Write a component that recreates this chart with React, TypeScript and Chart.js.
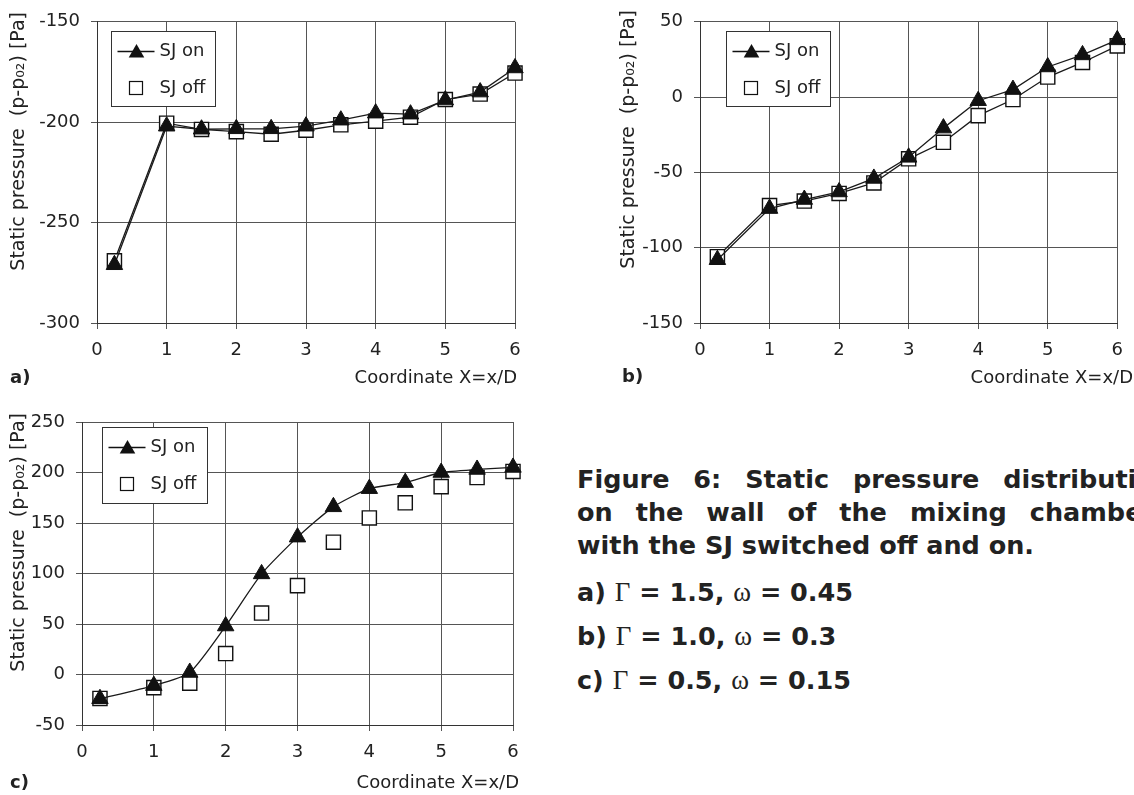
import React, { useEffect, useRef } from 'react';
import { Chart, registerables } from 'chart.js';

Chart.register(...registerables);

// ---------- data ----------
const seriesLabels = ['SJ on', 'SJ off'];
const xPositions = [0.25, 1, 1.5, 2, 2.5, 3, 3.5, 4, 4.5, 5, 5.5, 6];

const aOn = [-271, -202, -203.5, -203.3, -203.3, -202, -199, -195.5, -196, -189, -185, -173];
const aOff = [-269, -200.5, -203.6, -204.7, -206, -204, -201.3, -199.5, -197.5, -188.7, -186, -175.5];

const bOn = [-108, -74, -68, -63, -54, -40, -20.6, -2.4, 5, 20, 28, 38];
const bOff = [-106, -72, -69, -64, -57, -41, -30, -12.3, -1.6, 13.3, 23, 34];

const cOn = [-24, -11, 2, 48, 99.6, 136, 166, 184, 190, 200, 203, 205];
const cOff = [-23.7, -13, -8.6, 20.7, 60.8, 88, 131, 155, 170, 186, 195, 201];

const xTicks = [0, 1, 2, 3, 4, 5, 6];
const aYTicks = [-300, -250, -200, -150];
const bYTicks = [-150, -100, -50, 0, 50];
const cYTicks = [-50, 0, 50, 100, 150, 200, 250];

const yTitleText = 'Static pressure  (p-p\u2080\u2082) [Pa]';
const xTitleText = 'Coordinate X=x/D';

// ---------- plugins ----------
const legendPlugin = {
  id: 'insideLegend',
  afterDraw(chart: any, _args: any, opts: any) {
    if (!opts || opts.dx === undefined) return;
    const { ctx, chartArea } = chart;
    const bx = Math.round(chartArea.left + opts.dx) + 0.5;
    const by = Math.round(chartArea.top + opts.dy) + 0.5;
    const w = opts.w;
    const h = opts.h;
    ctx.save();
    ctx.fillStyle = '#ffffff';
    ctx.fillRect(bx, by, w, h);
    ctx.strokeStyle = '#333333';
    ctx.lineWidth = 1;
    ctx.strokeRect(bx, by, w, h);
    ctx.strokeStyle = '#111111';
    ctx.lineWidth = 1.3;
    ctx.beginPath();
    ctx.moveTo(bx + 6, by + 20);
    ctx.lineTo(bx + 43, by + 20);
    ctx.stroke();
    const tx = bx + 25;
    const ty = by + 21.5;
    const r = 9;
    ctx.fillStyle = '#111111';
    ctx.beginPath();
    ctx.moveTo(tx, ty - r);
    ctx.lineTo(tx + r * 0.866, ty + r / 2);
    ctx.lineTo(tx - r * 0.866, ty + r / 2);
    ctx.closePath();
    ctx.fill();
    ctx.fillStyle = '#ffffff';
    ctx.strokeStyle = '#111111';
    ctx.lineWidth = 1.2;
    ctx.fillRect(bx + 18, by + 50, 13, 13);
    ctx.strokeRect(bx + 18, by + 50, 13, 13);
    ctx.fillStyle = '#222222';
    ctx.font = '18px "DejaVu Sans"';
    ctx.textBaseline = 'middle';
    ctx.textAlign = 'left';
    ctx.fillText(chart.data.datasets[0].label, bx + 48, by + 20);
    ctx.fillText(chart.data.datasets[1].label, bx + 48, by + 57);
    ctx.restore();
  },
};

const titlePlugin = {
  id: 'axisTitles',
  afterDraw(chart: any, _args: any, opts: any) {
    if (!opts || opts.yx === undefined) return;
    const ctx = chart.ctx;
    ctx.save();
    ctx.fillStyle = '#222222';
    ctx.font = '19px "DejaVu Sans"';
    ctx.textBaseline = 'middle';
    ctx.translate(opts.yx, opts.yEnd);
    ctx.rotate(-Math.PI / 2);
    ctx.textAlign = 'right';
    ctx.fillText(opts.yText, 0, 0);
    ctx.restore();
    ctx.save();
    ctx.fillStyle = '#222222';
    ctx.font = '18px "DejaVu Sans"';
    ctx.textBaseline = 'middle';
    ctx.textAlign = 'right';
    ctx.fillText(opts.xText, opts.xEnd, opts.xy);
    ctx.restore();
  },
};

// ---------- panel ----------
type PanelProps = {
  left: number;
  top: number;
  width: number;
  height: number;
  area: { l: number; t: number; r: number; b: number };
  on: number[];
  off: number[];
  yTicks: number[];
  offLine: boolean;
  tension: number;
  legend: { dx: number; dy: number; w: number; h: number };
  titles: { yx: number; yEnd: number; xEnd: number; xy: number };
};

function Panel(p: PanelProps) {
  const ref = useRef<HTMLCanvasElement | null>(null);
  useEffect(() => {
    if (!ref.current) return;
    const gridColor = '#555555';
    const tickFont = { family: '"DejaVu Sans"', size: 18 };
    const toPts = (arr: number[]) => arr.map((v, i) => ({ x: xPositions[i], y: v }));
    const chart = new Chart(ref.current, {
      type: 'scatter',
      data: {
        datasets: [
          {
            label: seriesLabels[0],
            data: toPts(p.on),
            showLine: true,
            borderColor: '#1a1a1a',
            borderWidth: 1.3,
            tension: p.tension,
            pointStyle: 'triangle',
            pointRadius: 9.5,
            pointBackgroundColor: '#111111',
            pointBorderColor: '#111111',
            pointBorderWidth: 1,
            clip: false,
          } as any,
          {
            label: seriesLabels[1],
            data: toPts(p.off),
            showLine: p.offLine,
            borderColor: '#1a1a1a',
            borderWidth: 1.3,
            pointStyle: 'rect',
            pointRadius: 10,
            pointBackgroundColor: '#ffffff',
            pointBorderColor: '#111111',
            pointBorderWidth: 1.4,
            clip: false,
          } as any,
        ],
      },
      options: {
        animation: false,
        responsive: false,
        maintainAspectRatio: false,
        events: [],
        layout: { padding: { left: 0, top: p.area.t, right: p.width - p.area.r, bottom: 0 } },
        plugins: {
          legend: { display: false },
          tooltip: { enabled: false },
          insideLegend: p.legend,
          axisTitles: { ...p.titles, yText: yTitleText, xText: xTitleText },
        } as any,
        scales: {
          x: {
            type: 'linear',
            min: 0,
            max: 6,
            afterBuildTicks: (s: any) => {
              s.ticks = xTicks.map((value) => ({ value }));
            },
            afterFit: (s: any) => {
              s.height = p.height - p.area.b;
            },
            ticks: { font: tickFont, color: '#222222', padding: 11, maxRotation: 0 },
            grid: { color: gridColor, lineWidth: 1, tickLength: 6 },
            border: { color: '#333333', width: 1 },
          },
          y: {
            type: 'linear',
            min: p.yTicks[0],
            max: p.yTicks[p.yTicks.length - 1],
            afterBuildTicks: (s: any) => {
              s.ticks = p.yTicks.map((value) => ({ value }));
            },
            afterFit: (s: any) => {
              s.width = p.area.l;
            },
            ticks: { font: tickFont, color: '#222222', padding: 11 },
            grid: { color: gridColor, lineWidth: 1, tickLength: 6 },
            border: { color: '#333333', width: 1 },
          },
        },
      },
      plugins: [legendPlugin, titlePlugin],
    } as any);
    return () => chart.destroy();
  }, []);
  return (
    <canvas
      ref={ref}
      width={p.width}
      height={p.height}
      style={{ position: 'absolute', left: p.left, top: p.top, width: p.width, height: p.height }}
    />
  );
}

const serif: React.CSSProperties = {
  fontFamily: '"Liberation Serif", serif',
  fontWeight: 'normal',
  fontSize: 27,
  lineHeight: 1,
};

const justified: React.CSSProperties = {
  textAlign: 'justify',
  textAlignLast: 'justify',
  whiteSpace: 'nowrap',
};

export default function App() {
  const legendBox = { w: 104, h: 75 };
  return (
    <div
      style={{
        position: 'absolute',
        left: 0,
        top: 0,
        width: 1134,
        height: 795,
        overflow: 'hidden',
        background: '#ffffff',
        fontFamily: '"DejaVu Sans", sans-serif',
        color: '#222222',
      }}
    >
      <Panel
        left={0}
        top={0}
        width={545}
        height={395}
        area={{ l: 97, t: 19, r: 515, b: 323 }}
        on={aOn}
        off={aOff}
        yTicks={aYTicks}
        offLine={true}
        tension={0}
        legend={{ dx: 14, dy: 9, ...legendBox }}
        titles={{ yx: 19, yEnd: 12, xEnd: 517, xy: 378 }}
      />
      <Panel
        left={560}
        top={0}
        width={574}
        height={395}
        area={{ l: 140, t: 19, r: 562, b: 323 }}
        on={bOn}
        off={bOff}
        yTicks={bYTicks}
        offLine={true}
        tension={0}
        legend={{ dx: 26, dy: 9, ...legendBox }}
        titles={{ yx: 69, yEnd: 10, xEnd: 573, xy: 378 }}
      />
      <Panel
        left={0}
        top={395}
        width={545}
        height={400}
        area={{ l: 82, t: 27, r: 513, b: 330 }}
        on={cOn}
        off={cOff}
        yTicks={cYTicks}
        offLine={false}
        tension={0.2}
        legend={{ dx: 20, dy: 5, w: 105, h: 76 }}
        titles={{ yx: 19.5, yEnd: 18, xEnd: 519, xy: 388 }}
      />
      <div style={{ position: 'absolute', left: 10, top: 366, fontWeight: 'bold', fontSize: 18 }}>a)</div>
      <div style={{ position: 'absolute', left: 622, top: 365, fontWeight: 'bold', fontSize: 18 }}>b)</div>
      <div style={{ position: 'absolute', left: 10, top: 771, fontWeight: 'bold', fontSize: 18 }}>c)</div>

      <div
        style={{
          position: 'absolute',
          left: 577,
          top: 463,
          fontWeight: 'bold',
          fontSize: 25.5,
          lineHeight: '33px',
        }}
      >
        <div style={{ ...justified, width: 595 }}>Figure 6: Static pressure distribution</div>
        <div style={{ ...justified, width: 578 }}>on the wall of the mixing chamber</div>
        <div style={{ whiteSpace: 'nowrap' }}>with the SJ switched off and on.</div>
      </div>
      <div
        style={{
          position: 'absolute',
          left: 577,
          top: 570,
          fontWeight: 'bold',
          fontSize: 25.5,
          lineHeight: '44px',
          whiteSpace: 'nowrap',
        }}
      >
        <div>
          a) <span style={serif}>Γ</span> = 1.5, <span style={serif}>ω</span> = 0.45
        </div>
        <div>
          b) <span style={serif}>Γ</span> = 1.0, <span style={serif}>ω</span> = 0.3
        </div>
        <div>
          c) <span style={serif}>Γ</span> = 0.5, <span style={serif}>ω</span> = 0.15
        </div>
      </div>
    </div>
  );
}
